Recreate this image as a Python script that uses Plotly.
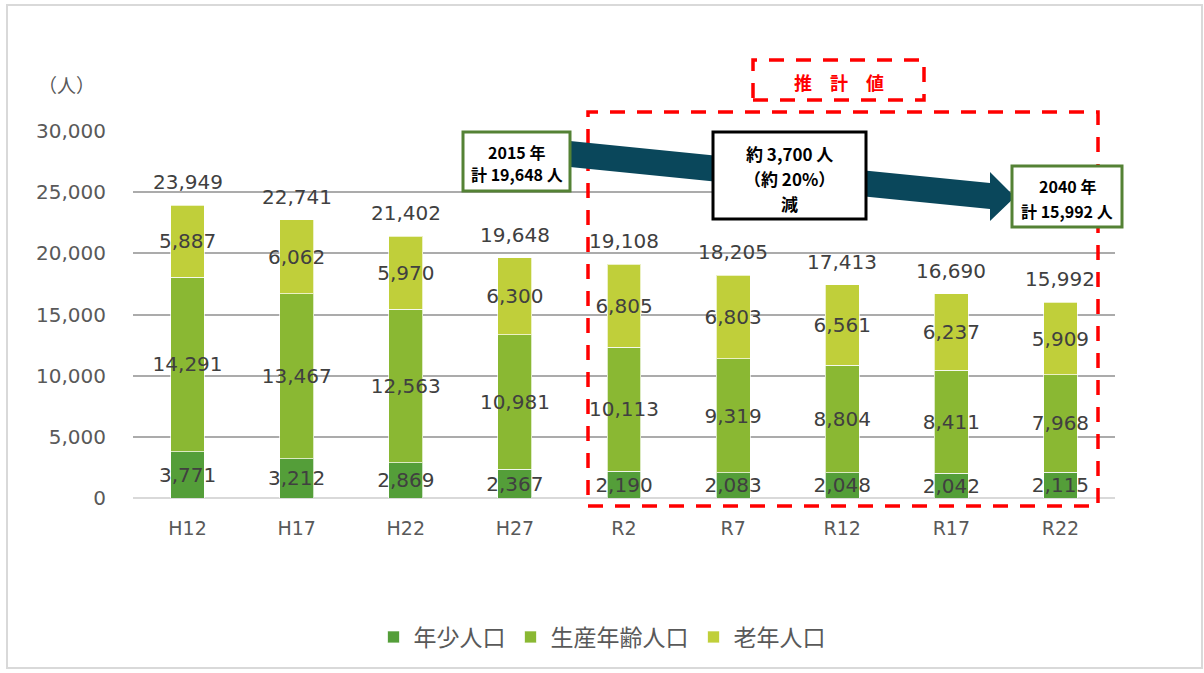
import plotly.graph_objects as go

# Population by age group (persons)
periods = ["H12", "H17", "H22", "H27", "R2", "R7", "R12", "R17", "R22"]
young = [3771, 3212, 2869, 2367, 2190, 2083, 2048, 2042, 2115]
working = [14291, 13467, 12563, 10981, 10113, 9319, 8804, 8411, 7968]
elderly = [5887, 6062, 5970, 6300, 6805, 6803, 6561, 6237, 5909]
totals = [23949, 22741, 21402, 19648, 19108, 18205, 17413, 16690, 15992]

series_names = ["年少人口", "生産年齢人口", "老年人口"]
colors = ["#549E39", "#8AB833", "#C0CF3A"]

y_ticks = [0, 5000, 10000, 15000, 20000, 25000, 30000]

W, H = 1204, 673


def px(x):
    return x / W


def py(y):
    return 1 - y / H


NUM_FONT = "DejaVu Sans"
JP_FONT = "Noto Sans CJK JP"

fig = go.Figure()
for name, vals, col in zip(series_names, [young, working, elderly], colors):
    fig.add_trace(go.Bar(
        x=periods, y=vals, name=name,
        marker=dict(color=col, line=dict(color="rgba(255,255,255,0.7)", width=1)),
        text=[f"{v:,}" for v in vals],
        textposition="inside", insidetextanchor="middle",
        constraintext="none", textangle=0,
        textfont=dict(family=NUM_FONT, size=20, color="#404040"),
        hoverinfo="skip",
    ))

annotations = []
# totals above each stack
for p, t in zip(periods, totals):
    annotations.append(dict(
        x=p, y=t, xref="x", yref="y", text=f"{t:,}", showarrow=False,
        xanchor="center", yanchor="bottom", yshift=9,
        font=dict(family=NUM_FONT, size=20, color="#404040"),
    ))


def label(cx, cy, text, size, color, bold=False):
    annotations.append(dict(
        x=px(cx), y=py(cy), xref="paper", yref="paper",
        text=f"<b>{text}</b>" if bold else text, showarrow=False,
        xanchor="center", yanchor="middle",
        font=dict(family=JP_FONT, size=size, color=color),
    ))


# unit label
label(66, 84, "（人）", 19, "#595959")
# "estimate" label
label(839, 82, "推\u3000計\u3000値", 18, "#FF0000", bold=True)

# text inside the callout boxes
for yy, line in zip([152, 174], ["2015 年", "計 19,648 人"]):
    label(516.5, yy, line, 16, "#000000", bold=True)
for yy, line in zip([154, 179, 203], ["約 3,700 人", "（約 20%）", "減"]):
    label(789.5, yy, line, 17, "#000000", bold=True)
for yy, line in zip([186, 211], ["2040 年", "計 15,992 人"]):
    label(1067, yy, line, 16, "#000000", bold=True)

shapes = []
# outer frame
shapes.append(dict(type="rect", xref="paper", yref="paper",
                   x0=px(7), y0=py(668), x1=px(1202), y1=py(5),
                   line=dict(color="#D9D9D9", width=2), layer="below"))
# dashed frames for projected values
red_dash = dict(color="#FF0000", width=3.5, dash="15px,12px")
shapes.append(dict(type="rect", xref="paper", yref="paper",
                   x0=px(753), y0=py(100), x1=px(924), y1=py(60),
                   line=red_dash, layer="above"))
shapes.append(dict(type="rect", xref="paper", yref="paper",
                   x0=px(588), y0=py(506), x1=px(1098), y1=py(112),
                   line=red_dash, layer="above"))
# decrease arrow
arrow_pts = [(570, 141), (990, 183), (990, 172), (1015, 197),
             (990, 221), (990, 209), (570, 167)]
path = "M " + " L ".join(f"{px(a):.5f},{py(b):.5f}" for a, b in arrow_pts) + " Z"
shapes.append(dict(type="path", xref="paper", yref="paper", path=path,
                   fillcolor="#0A475B", line=dict(width=0), layer="above"))
# callout boxes
shapes.append(dict(type="rect", xref="paper", yref="paper",
                   x0=px(463), y0=py(191), x1=px(570), y1=py(132),
                   fillcolor="white", line=dict(color="#548235", width=3), layer="above"))
shapes.append(dict(type="rect", xref="paper", yref="paper",
                   x0=px(713), y0=py(219), x1=px(866), y1=py(132),
                   fillcolor="white", line=dict(color="#000000", width=3), layer="above"))
shapes.append(dict(type="rect", xref="paper", yref="paper",
                   x0=px(1012), y0=py(227), x1=px(1122), y1=py(166),
                   fillcolor="white", line=dict(color="#548235", width=3), layer="above"))

fig.update_layout(
    width=W, height=H,
    margin=dict(l=0, r=0, t=0, b=0),
    paper_bgcolor="white", plot_bgcolor="white",
    barmode="stack", bargap=0.69,
    showlegend=True,
    legend=dict(orientation="h", x=0.5, xanchor="center", y=py(637), yanchor="middle",
                font=dict(family=JP_FONT, size=23, color="#595959"),
                traceorder="normal", itemclick=False),
    xaxis=dict(domain=[px(133), px(1115)], showgrid=False, showline=False,
               ticks="", automargin=False, ticklabelstandoff=17,
               tickfont=dict(family=NUM_FONT, size=19, color="#595959")),
    yaxis=dict(domain=[py(498), py(131)], range=[0, 30000], tickvals=y_ticks,
               tickformat=",", showgrid=True, gridcolor="#ABABAB", gridwidth=1.5,
               zeroline=True, zerolinecolor="#D9D9D9", zerolinewidth=2,
               showline=False, ticks="", automargin=False, ticklabelstandoff=26,
               tickfont=dict(family=NUM_FONT, size=20, color="#595959")),
    annotations=annotations,
    shapes=shapes,
    hovermode=False,
)

fig.write_html("out.html")
